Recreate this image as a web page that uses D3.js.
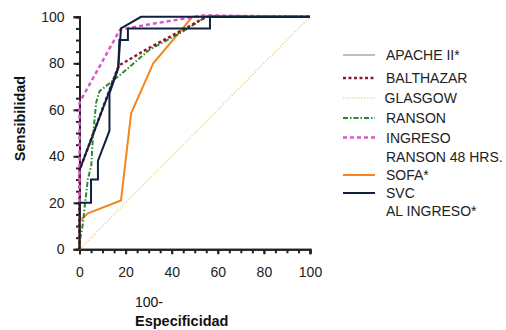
<!DOCTYPE html>
<html>
<head>
<meta charset="utf-8">
<script src="https://cdn.jsdelivr.net/npm/d3@7"></script>
<style>
  body { margin: 0; background: #fff; }
  svg { display: block; font-family: "Liberation Sans", Arial, sans-serif; }
</style>
</head>
<body>
<svg id="chart" width="506" height="330"></svg>
<script>
// ROC curves, x = 100 - especificidad, y = sensibilidad
const xTicks = [0, 20, 40, 60, 80, 100];
const yTicks = [0, 20, 40, 60, 80, 100];

const apache = [[0, 0], [0, 20], [5, 20], [5, 30], [8, 30], [8, 38], [13, 51], [13, 67], [16.8, 78], [17.3, 90], [21, 90], [21, 95], [56.6, 95], [56.6, 100], [100, 100]];
const balthazar = [[0, 0], [0, 34], [17, 79], [30, 86.5], [43.7, 93.8], [55, 100], [100, 100]];
const glasgow = [[0, 0], [100, 100]];
const ranson = [[0, 0], [0, 3], [1.5, 11], [2.2, 18], [3.6, 30], [5.1, 36], [5.8, 48], [7.2, 63], [8.7, 68], [17.6, 75], [30.6, 86], [43.7, 93], [55, 100], [100, 100]];
const ranson48 = [[0, 20], [0, 63], [1.6, 66], [17.6, 94.5], [33, 97.2], [54, 100.6], [100, 100]];
const sofa = [[0, 0], [0, 12], [3.6, 15.5], [18, 21], [22.4, 58.5], [32, 80], [49, 100], [100, 100]];
const svc = [[0, 34], [16.8, 78], [18, 95], [26.7, 100], [100, 100]];

// legend text lines (wrapped as in the original)
const legendLines = ['APACHE II*', 'BALTHAZAR', 'GLASGOW', 'RANSON', 'INGRESO', 'RANSON 48 HRS.', 'SOFA*', 'SVC', 'AL INGRESO*'];

const series = [
  { name: 'GLASGOW', data: glasgow, color: '#f3d9a0', width: 1.5, dash: '1.5,1.5', legendColor: '#f3d9a0', row: 2 },
  { name: 'SOFA*', data: sofa, color: '#f5861f', width: 2, dash: null, legendColor: '#f5861f', row: 6 },
  { name: 'RANSON', data: ranson, color: '#2b8a2b', width: 2, dash: '5,2,1.5,2', legendColor: '#2b8a2b', row: 3 },
  { name: 'BALTHAZAR', data: balthazar, color: '#8c1a2e', width: 2.5, dash: '3,2.5', legendColor: '#8c1a2e', row: 1 },
  { name: 'RANSON 48 HRS.', data: ranson48, color: '#de55cc', width: 2.5, dash: '4,3', legendColor: '#de55cc', row: 4 },
  { name: 'APACHE II*', data: apache, color: '#10213f', width: 2, dash: null, legendColor: '#bdbdbd', row: 0 },
  { name: 'SVC', data: svc, color: '#10213f', width: 2, dash: null, legendColor: '#10213f', row: 7 }
];

const svg = d3.select('#chart');

const x = d3.scaleLinear().domain([0, 100]).range([79.5, 310]);
const y = d3.scaleLinear().domain([0, 100]).range([249.3, 16.8]);

const axisColor = '#222';
const fontSize = 14;

// minor ticks every 5
const minorX = svg.append('g')
  .attr('transform', `translate(0,${y(0)})`)
  .call(d3.axisBottom(x).tickValues(d3.range(0, 101, 5)).tickSize(4).tickFormat(''));
const minorY = svg.append('g')
  .attr('transform', `translate(${x(0)},0)`)
  .call(d3.axisLeft(y).tickValues(d3.range(0, 101, 5)).tickSize(3.5).tickFormat(''));

const xAxis = svg.append('g')
  .attr('transform', `translate(0,${y(0)})`)
  .call(d3.axisBottom(x).tickValues(xTicks).tickSize(5).tickPadding(13));
const yAxis = svg.append('g')
  .attr('transform', `translate(${x(0)},0)`)
  .call(d3.axisLeft(y).tickValues(yTicks).tickSize(6).tickPadding(9));

[minorX, minorY, xAxis, yAxis].forEach((g) => {
  g.selectAll('path').attr('stroke', axisColor).attr('stroke-width', 2);
  g.selectAll('line').attr('stroke', axisColor).attr('stroke-width', 2);
  g.selectAll('text')
    .attr('fill', '#222')
    .attr('font-size', fontSize)
    .attr('font-family', '"Liberation Sans", Arial, sans-serif');
});

// axis titles
svg.append('text')
  .attr('transform', 'translate(24.5,118.5) rotate(-90)')
  .attr('text-anchor', 'middle')
  .attr('font-size', 14.5)
  .attr('font-weight', 'bold')
  .attr('fill', '#111')
  .text('Sensibilidad');

svg.append('text')
  .attr('x', 135)
  .attr('y', 306.5)
  .attr('font-size', fontSize)
  .attr('fill', '#111')
  .text('100-');

svg.append('text')
  .attr('x', 135)
  .attr('y', 326)
  .attr('font-size', 14.5)
  .attr('font-weight', 'bold')
  .attr('fill', '#111')
  .text('Especificidad');

// curves
const line = d3.line()
  .x((d) => x(d[0]))
  .y((d) => y(d[1]));

svg.append('g')
  .attr('class', 'curves')
  .selectAll('path')
  .data(series)
  .join('path')
  .attr('d', (d) => line(d.data))
  .attr('fill', 'none')
  .attr('stroke', (d) => d.color)
  .attr('stroke-width', (d) => d.width)
  .attr('stroke-dasharray', (d) => d.dash)
  .attr('stroke-linejoin', 'miter');

// legend
const textY = [55, 78, 98, 118, 137.5, 156.5, 175, 193, 211];
const legend = svg.append('g').attr('class', 'legend');

legend.selectAll('line')
  .data(series)
  .join('line')
  .attr('x1', 343)
  .attr('x2', 375)
  .attr('y1', (d) => textY[d.row])
  .attr('y2', (d) => textY[d.row])
  .attr('stroke', (d) => d.legendColor)
  .attr('stroke-width', (d) => d.width)
  .attr('stroke-dasharray', (d) => d.dash);

legend.selectAll('text')
  .data(legendLines)
  .join('text')
  .attr('x', (d) => (d === 'GLASGOW' ? 384.5 : 386))
  .attr('y', (d, i) => textY[i])
  .attr('dy', '0.36em')
  .attr('font-size', fontSize)
  .attr('fill', '#222')
  .text((d) => d);
</script>
</body>
</html>
